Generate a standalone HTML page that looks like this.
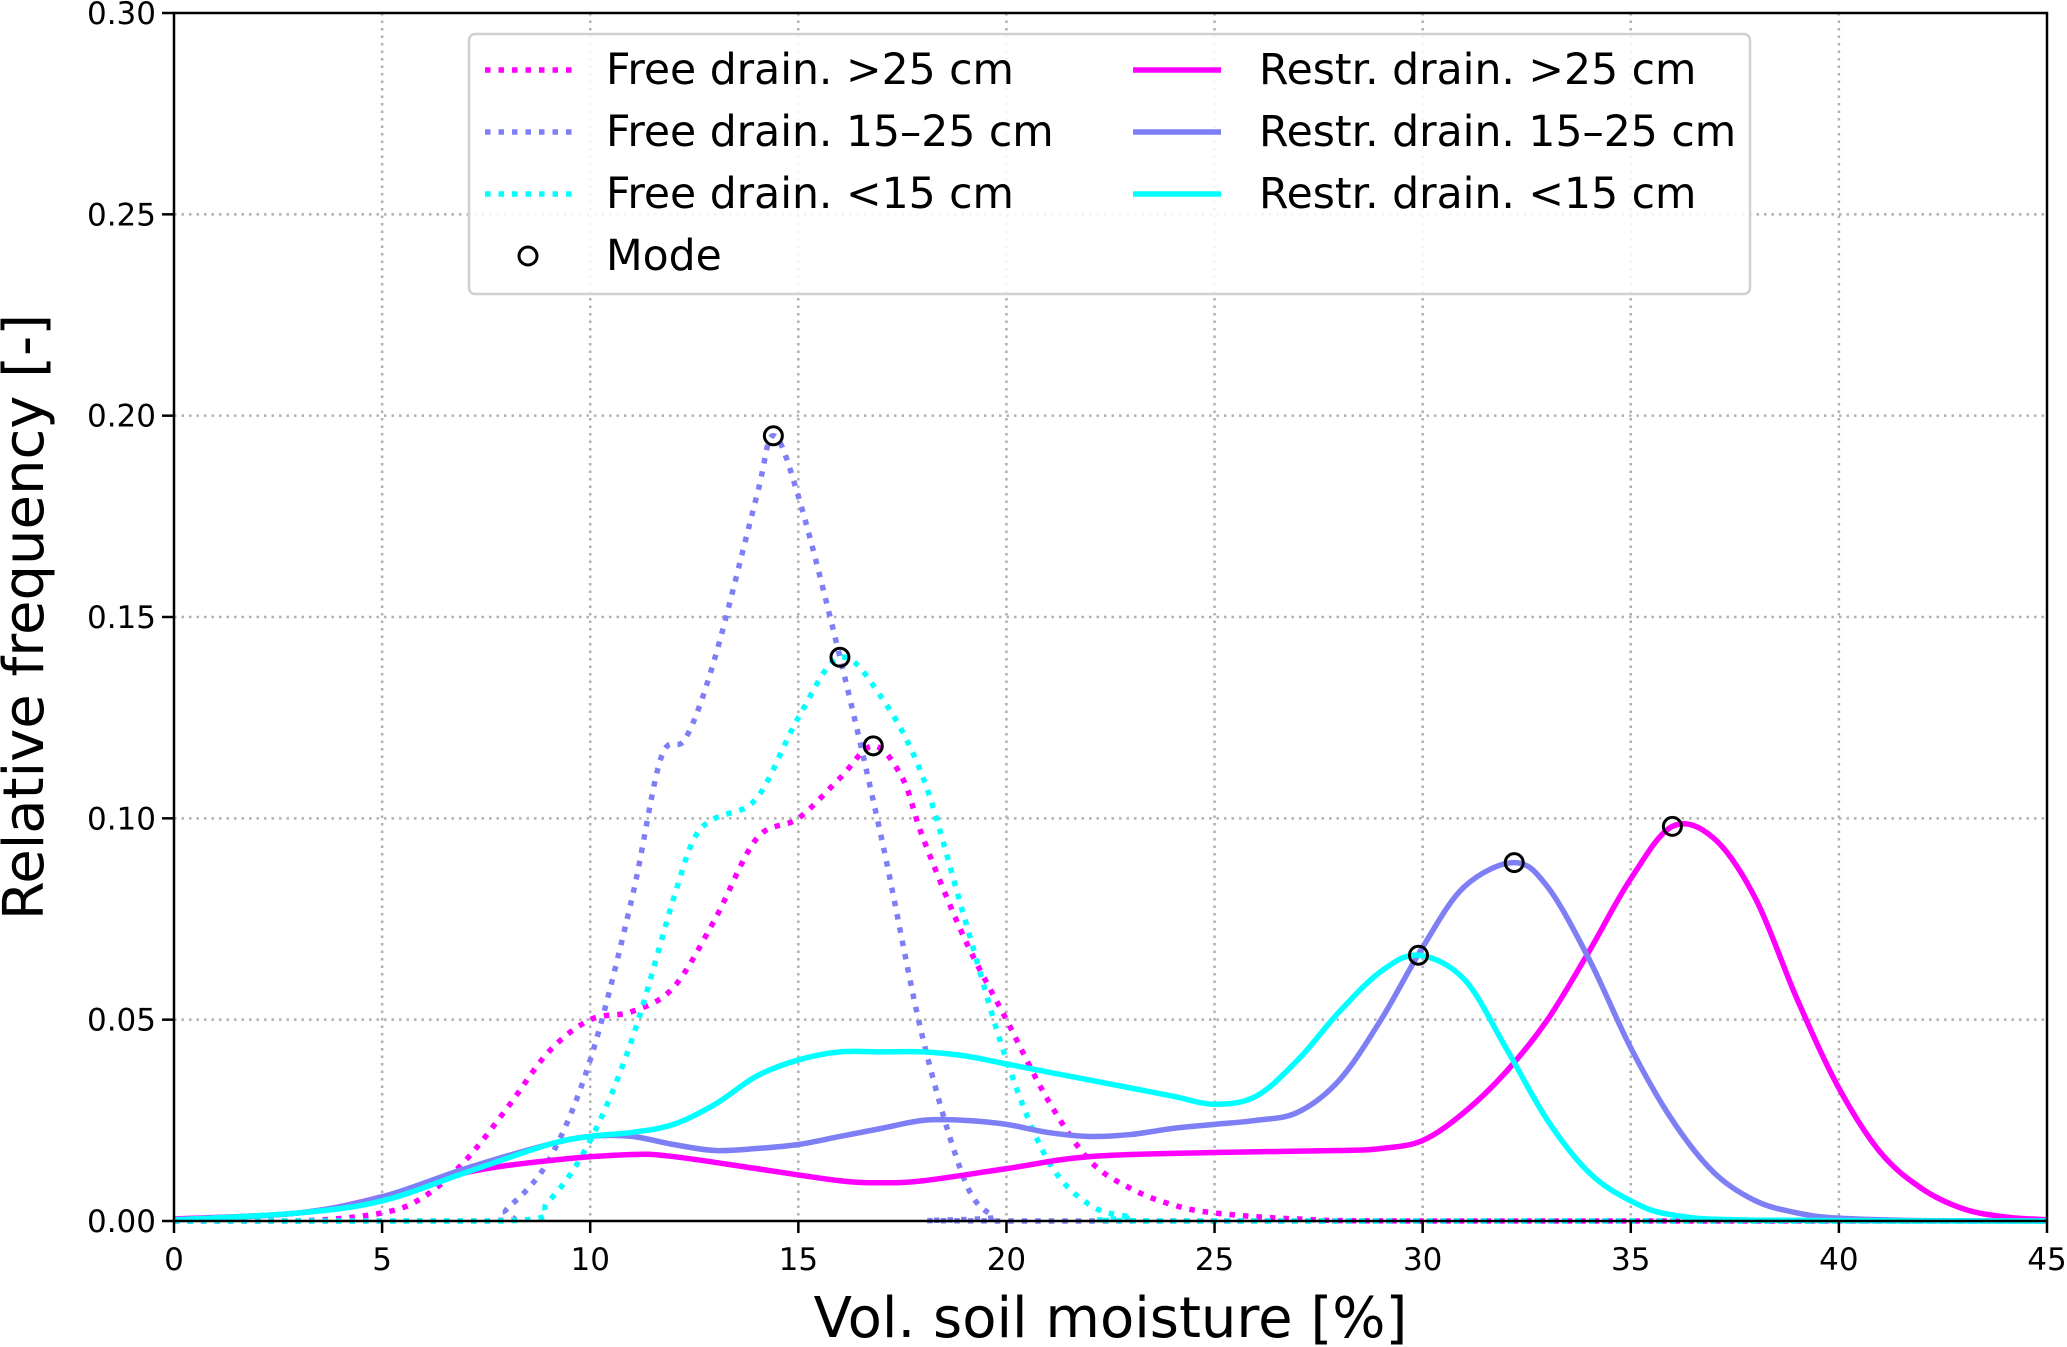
<!DOCTYPE html>
<html><head><meta charset="utf-8"><style>
body{margin:0;background:#fff}
svg{display:block;font-family:"DejaVu Sans","Liberation Sans",sans-serif}
</style></head><body>
<svg id="chart" width="2067" height="1347" viewBox="0 0 2067 1347"></svg>
<script>
const xTicks=[0,5,10,15,20,25,30,35,40,45];
const yTicks=[0,0.05,0.10,0.15,0.20,0.25,0.30];
const yTickLabels=["0.00","0.05","0.10","0.15","0.20","0.25","0.30"];
const seriesNames=["Free drain. >25 cm","Free drain. 15–25 cm","Free drain. <15 cm","Restr. drain. >25 cm","Restr. drain. 15–25 cm","Restr. drain. <15 cm"];
const freeDeepX=[0,3,5,6,7,8,9,10,11,12,13,14,15,16,16.8,17.5,18,19,20,21,22,23,24,25,27,30,45];
const freeDeepY=[0,0,0.002,0.006,0.015,0.028,0.042,0.05,0.052,0.058,0.075,0.095,0.1,0.11,0.118,0.11,0.095,0.07,0.05,0.03,0.015,0.008,0.004,0.002,0.0005,0,0];
const freeMidX=[0,7.5,8,9,10,11,11.7,12.3,13,14,14.4,15,16,17,18,19,19.7,20,45];
const freeMidY=[0,0,0.003,0.015,0.04,0.08,0.115,0.12,0.14,0.18,0.195,0.18,0.14,0.095,0.045,0.01,0.001,0,0];
const freeShallowX=[0,8,9,10,11,12,12.5,13,14,15,16,17,18,19,20,21,22,23,24,45];
const freeShallowY=[0,0,0.005,0.02,0.045,0.08,0.095,0.1,0.105,0.125,0.14,0.13,0.11,0.075,0.04,0.015,0.004,0.001,0,0];
const restrDeepX=[0,3,5,7,9,11,12,14,16,17,18,20,22,25,28,29,30,31,32,33,34,35,36,37,38,39,40,41,42,43,44,45];
const restrDeepY=[0.0005,0.002,0.006,0.012,0.015,0.0165,0.016,0.013,0.01,0.0095,0.01,0.013,0.016,0.017,0.0175,0.018,0.02,0.027,0.037,0.05,0.067,0.085,0.098,0.095,0.08,0.055,0.033,0.017,0.008,0.003,0.001,0.0003];
const restrMidX=[0,3,5,7,9,10,11,12,13,14,15,16,17,18,19,20,21,22,23,24,25,26,27,28,29,30,31,32.2,33,34,35,36,37,38,39,40,42,45];
const restrMidY=[0.0003,0.002,0.006,0.013,0.019,0.021,0.021,0.019,0.0175,0.018,0.019,0.021,0.023,0.025,0.025,0.024,0.022,0.021,0.0215,0.023,0.024,0.025,0.027,0.035,0.05,0.068,0.083,0.089,0.083,0.065,0.043,0.025,0.012,0.005,0.002,0.0007,0.0001,0];
const restrShallowX=[0,3,5,7,9,10,11,12,13,14,15,16,17,18,19,20,21,22,23,24,25,26,27,28,29,29.9,31,32,33,34,35,36,38,45];
const restrShallowY=[0.0003,0.002,0.005,0.012,0.019,0.021,0.022,0.024,0.029,0.036,0.04,0.042,0.042,0.042,0.041,0.039,0.037,0.035,0.033,0.031,0.029,0.031,0.04,0.052,0.062,0.066,0.06,0.043,0.025,0.012,0.005,0.0015,0.0002,0];
const modeX=[14.4,16,16.8,29.9,32.2,36];
const modeY=[0.195,0.14,0.118,0.066,0.089,0.098];

const L=174,R=2047,T=13,B=1221;
const sx=v=>L+(v-0)/45*(R-L);
const sy=v=>B-(v-0)/0.30*(B-T);
const NS="http://www.w3.org/2000/svg";
const svg=document.getElementById('chart');
function mk(tag,attrs,parent){const e=document.createElementNS(NS,tag);for(const k in attrs)e.setAttribute(k,attrs[k]);(parent||svg).appendChild(e);return e;}
const grid=mk('g',{});


xTicks.forEach(t=>{if(t>0&&t<45)mk('line',{x1:sx(t),x2:sx(t),y1:T,y2:B,stroke:'#b0b0b0','stroke-width':2.5,'stroke-dasharray':'2.5 5'},grid);});
yTicks.forEach(t=>{if(t>0&&t<0.3)mk('line',{x1:L,x2:R,y1:sy(t),y2:sy(t),stroke:'#b0b0b0','stroke-width':2.5,'stroke-dasharray':'2.5 5'},grid);});
function path(xs,ys){const p=xs.map((x,i)=>[sx(x),sy(ys[i])]);let d=`M${p[0][0]},${p[0][1]}`;
for(let i=0;i<p.length-1;i++){const p0=p[Math.max(i-1,0)],p1=p[i],p2=p[i+1],p3=p[Math.min(i+2,p.length-1)];
const c1=[p1[0]+(p2[0]-p0[0])/6,p1[1]+(p2[1]-p0[1])/6],c2=[p2[0]-(p3[0]-p1[0])/6,p2[1]-(p3[1]-p1[1])/6];
d+=`C${c1[0]},${Math.min(c1[1],B)} ${c2[0]},${Math.min(c2[1],B)} ${p2[0]},${p2[1]}`;}return d;}
const series=[[freeDeepX,freeDeepY,'#ff00ff',true,'free-drain-deep-line'],[freeMidX,freeMidY,'#7f7ff5',true,'free-drain-mid-line'],[freeShallowX,freeShallowY,'#00ffff',true,'free-drain-shallow-line'],
[restrDeepX,restrDeepY,'#ff00ff',false,'restr-drain-deep-line'],[restrMidX,restrMidY,'#7f7ff5',false,'restr-drain-mid-line'],[restrShallowX,restrShallowY,'#00ffff',false,'restr-drain-shallow-line']];
series.forEach(s=>{const e=mk('path',{d:path(s[0],s[1]),fill:'none',stroke:s[2],'stroke-width':5.5,'stroke-dasharray':s[3]?'5.5 8':'none','stroke-linejoin':'round'});

});
modeX.forEach((x,i)=>{const c=mk('circle',{cx:sx(x),cy:sy(modeY[i]),r:9,fill:'none',stroke:'#000','stroke-width':3});

});
const ax=mk('rect',{x:L,y:T,width:R-L,height:B-T,fill:'none',stroke:'#000','stroke-width':2.5});


xTicks.forEach(t=>{mk('line',{x1:sx(t),x2:sx(t),y1:B,y2:B+12,stroke:'#000','stroke-width':2.5});
const tx=mk('text',{x:sx(t),y:B+49,'text-anchor':'middle','font-size':31});tx.textContent=t;

});
yTicks.forEach((t,i)=>{mk('line',{x1:L-12,x2:L,y1:sy(t),y2:sy(t),stroke:'#000','stroke-width':2.5});
const tx=mk('text',{x:L-18,y:sy(t)+11,'text-anchor':'end','font-size':31});tx.textContent=yTickLabels[i];

});
const xl=mk('text',{x:(L+R)/2,y:1337,'text-anchor':'middle','font-size':56});xl.textContent='Vol. soil moisture [%]';


const yl=mk('text',{x:0,y:0,'text-anchor':'middle','font-size':56,transform:`translate(43,${(T+B)/2}) rotate(-90)`});yl.textContent='Relative frequency [-]';


const lg=mk('g',{});


mk('rect',{x:469,y:34,width:1281,height:260,rx:6,fill:'#fff','fill-opacity':0.85,stroke:'#d0d0d0','stroke-width':2.5},lg);
const rows=[70,132,194];
series.forEach((s,i)=>{const col=i<3?0:1,r=rows[i%3];const x0=col?1133:485,tx=col?1259:606;
mk('line',{x1:x0,x2:x0+88,y1:r,y2:r,stroke:s[2],'stroke-width':5.5,'stroke-dasharray':s[3]?'5.5 8':'none'},lg);
const t=mk('text',{x:tx,y:r+14,'font-size':42.5},lg);t.textContent=seriesNames[i];

});
mk('circle',{cx:528,cy:256,r:9,fill:'none',stroke:'#000','stroke-width':3},lg);
const mt=mk('text',{x:606,y:270,'font-size':42.5},lg);mt.textContent='Mode';


</script>
</body></html>
